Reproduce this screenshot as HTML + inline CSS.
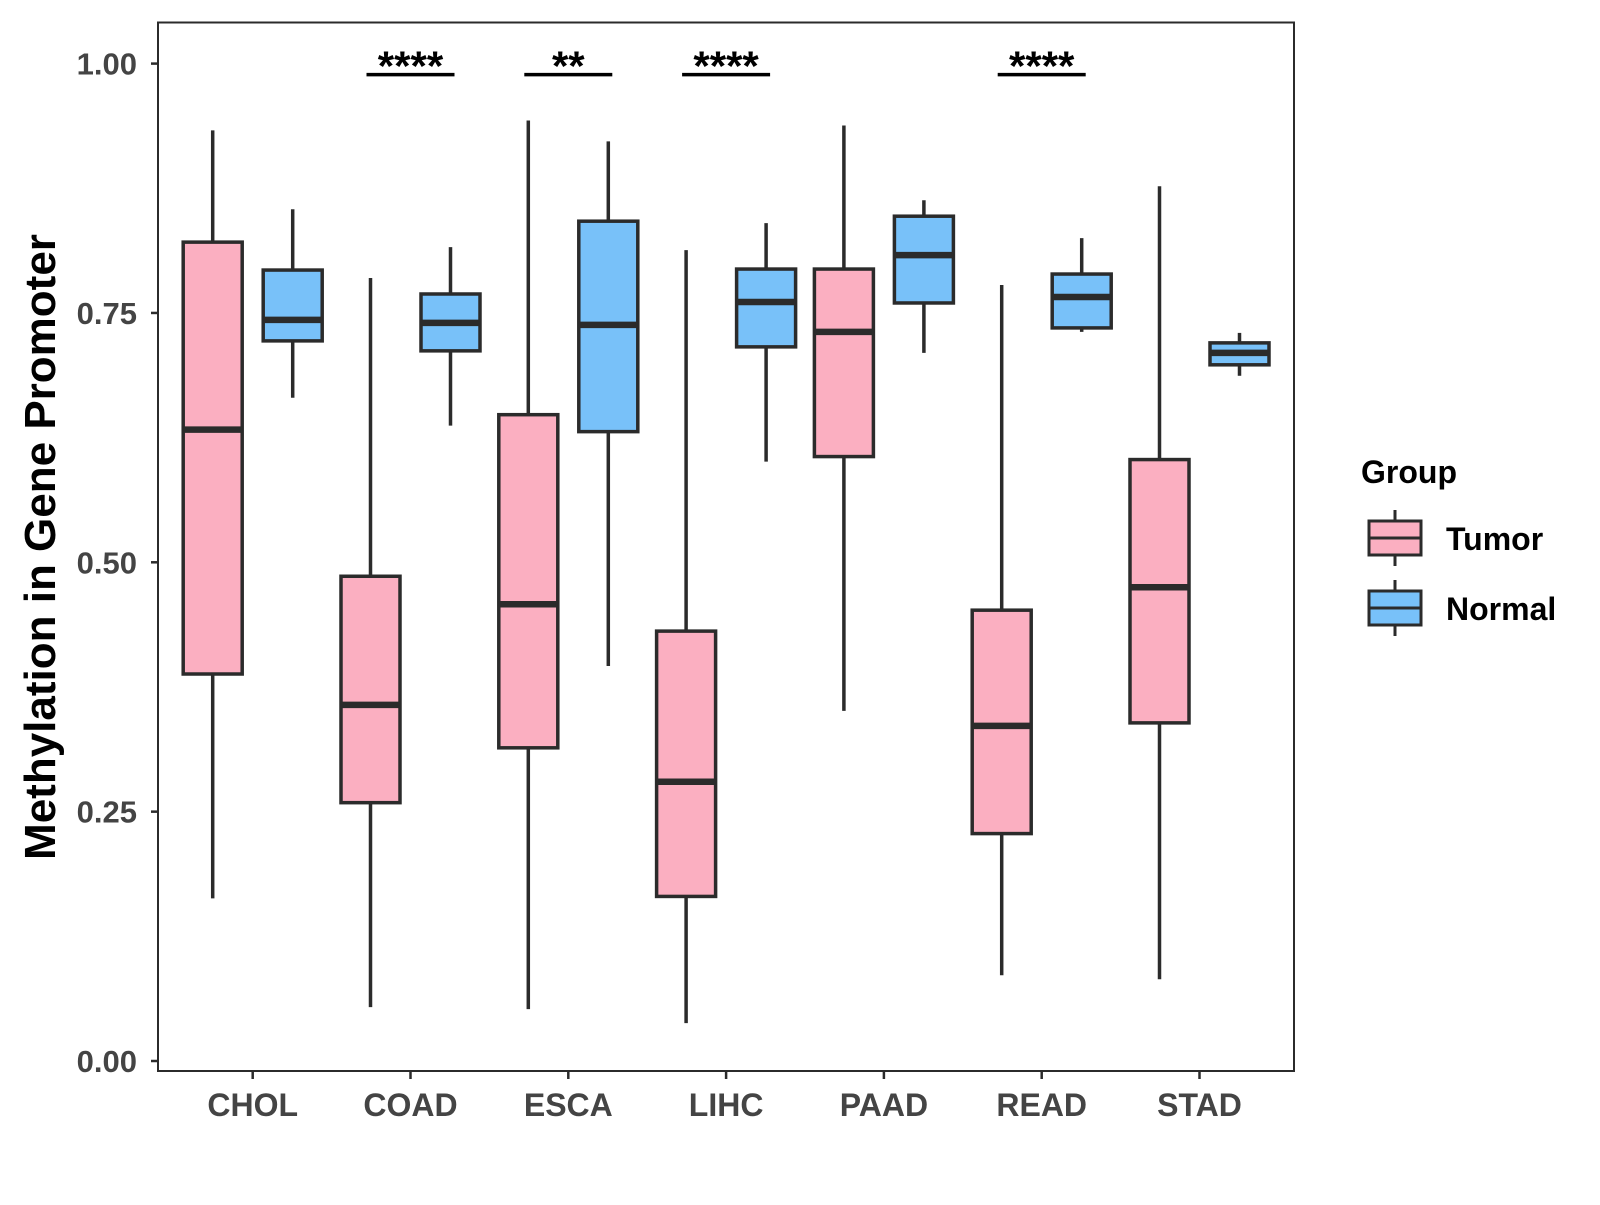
<!DOCTYPE html>
<html><head><meta charset="utf-8"><style>
body{margin:0;background:#fff}
text{font-family:"Liberation Sans",sans-serif;font-weight:bold}
</style></head><body>
<svg id="chart" width="1600" height="1200" xmlns="http://www.w3.org/2000/svg">
<rect x="158" y="22.5" width="1136" height="1048.5" fill="#fff" stroke="#2b2b2b" stroke-width="2"/>
<g id="marks"></g>
<text transform="translate(55,547) rotate(-90)" text-anchor="middle" font-size="44" fill="#000">Methylation in Gene Promoter</text>
<g transform="translate(-7,-2)">
<text x="1368" y="485" font-size="32" fill="#000">Group</text>
<g>
<line x1="1402" y1="512" x2="1402" y2="568" stroke="#2b2b2b" stroke-width="3"/>
<rect x="1376" y="523" width="52" height="34" fill="#FBAFC1" stroke="#2b2b2b" stroke-width="3"/>
<line x1="1376" y1="540" x2="1428" y2="540" stroke="#2b2b2b" stroke-width="3"/>
<text x="1453" y="552" font-size="32" fill="#000">Tumor</text></g>
<g>
<line x1="1402" y1="582" x2="1402" y2="638" stroke="#2b2b2b" stroke-width="3"/>
<rect x="1376" y="593" width="52" height="34" fill="#78C1F9" stroke="#2b2b2b" stroke-width="3"/>
<line x1="1376" y1="610" x2="1428" y2="610" stroke="#2b2b2b" stroke-width="3"/>
<text x="1453" y="622" font-size="32" fill="#000">Normal</text></g>
</g>
</svg>
<script>
const categories=["CHOL","COAD","ESCA","LIHC","PAAD","READ","STAD"];
const tumorLow=[0.163,0.054,0.052,0.038,0.351,0.086,0.082];
const tumorQ1=[0.388,0.259,0.314,0.165,0.606,0.228,0.339];
const tumorMed=[0.633,0.357,0.458,0.280,0.731,0.336,0.475];
const tumorQ3=[0.821,0.486,0.648,0.431,0.794,0.452,0.603];
const tumorHigh=[0.933,0.785,0.943,0.813,0.938,0.778,0.877];
const normalLow=[0.665,0.637,0.396,0.601,0.710,0.731,0.687];
const normalQ1=[0.722,0.712,0.631,0.716,0.760,0.735,0.698];
const normalMed=[0.743,0.740,0.738,0.761,0.808,0.766,0.710];
const normalQ3=[0.793,0.769,0.842,0.794,0.847,0.789,0.720];
const normalHigh=[0.854,0.816,0.922,0.840,0.863,0.825,0.730];
const signifLabels=["","****","**","****","","****",""];
const signifY=0.989;
const yTicks=[0,0.25,0.5,0.75,1.0];
const yTickLabels=["0.00","0.25","0.50","0.75","1.00"];

const NS="http://www.w3.org/2000/svg";
const g=document.getElementById('marks');
const y=v=>1061-v*997.4;
const x=i=>252.7+i*157.8;
const BW=59,OFF=40;
function mk(tag,attrs,parent){const e=document.createElementNS(NS,tag);for(const k in attrs)e.setAttribute(k,attrs[k]);(parent||g).appendChild(e);return e;}
yTicks.forEach((t,i)=>{
  const l=mk('line',{x1:151,x2:158,y1:y(t),y2:y(t),stroke:'#2b2b2b','stroke-width':2.5});
  
  
  const tx=mk('text',{x:137,y:y(t)+11,'text-anchor':'end','font-size':31,fill:'#444'});
  tx.textContent=yTickLabels[i];
  
  
});
function box(cx,lo,q1,md,q3,hi,fill,name){
  const grp=mk('g',{});
  
  
  mk('line',{x1:cx,x2:cx,y1:y(hi),y2:y(lo),stroke:'#2b2b2b','stroke-width':3.5},grp);
  mk('rect',{x:cx-BW/2,y:y(q3),width:BW,height:y(q1)-y(q3),fill:fill,stroke:'#2b2b2b','stroke-width':3.5},grp);
  mk('line',{x1:cx-BW/2,x2:cx+BW/2,y1:y(md),y2:y(md),stroke:'#2b2b2b','stroke-width':6.5},grp);
}
categories.forEach((c,i)=>{
  box(x(i)-OFF,tumorLow[i],tumorQ1[i],tumorMed[i],tumorQ3[i],tumorHigh[i],'#FBAFC1','box-tumor-'+c.toLowerCase());
  box(x(i)+OFF,normalLow[i],normalQ1[i],normalMed[i],normalQ3[i],normalHigh[i],'#78C1F9','box-normal-'+c.toLowerCase());
  const t=mk('line',{x1:x(i),x2:x(i),y1:1071,y2:1079,stroke:'#2b2b2b','stroke-width':2.5});
  
  
  const lb=mk('text',{x:x(i),y:1116,'text-anchor':'middle','font-size':32,fill:'#444'});
  lb.textContent=c;
  
  
  if(signifLabels[i]){
    const br=mk('line',{x1:x(i)-44,x2:x(i)+44,y1:y(signifY),y2:y(signifY),stroke:'#000','stroke-width':3.5});
    
    
    const st=mk('text',{x:x(i),y:y(signifY)+6,'text-anchor':'middle','font-size':42,fill:'#000'});
    st.textContent=signifLabels[i];
    
    
  }
});
</script>
</body></html>
